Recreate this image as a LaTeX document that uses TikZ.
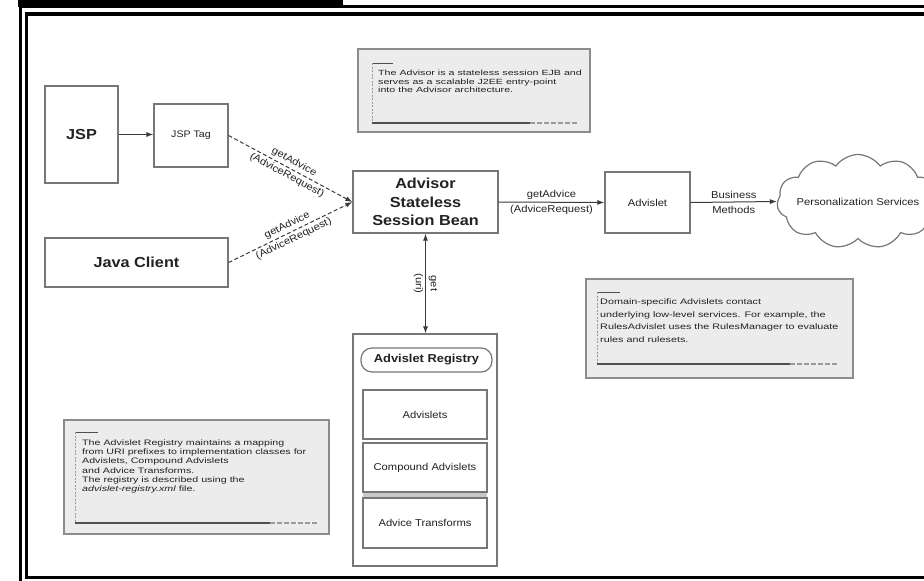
\documentclass[tikz,border=0pt]{standalone}
\usepackage{fontspec}
\setmainfont{Liberation Sans}
\newfontfamily\labfont[FakeStretch=1.12]{Liberation Sans}
\newfontfamily\notefont[FakeStretch=1.35]{Liberation Sans}
\newfontfamily\notefontwide[FakeStretch=1.42]{Liberation Sans}
\usetikzlibrary{shapes.symbols,arrows.meta}

\definecolor{boxgray}{HTML}{777777}
\definecolor{linegray}{HTML}{3A3A3A}
\definecolor{notefill}{HTML}{ECECEC}
\definecolor{noteborder}{HTML}{8C8C8C}
\definecolor{decodark}{HTML}{505050}
\definecolor{decolight}{HTML}{9A9A9A}
\definecolor{bandgray}{HTML}{C8C8C8}
\definecolor{txt}{HTML}{222222}

\tikzset{
  box/.style={draw=boxgray, line width=1.2pt, fill=white, inner sep=0pt,
    align=center, text=txt, font=\labfont\fontsize{10}{14}\selectfont},
  headbox/.style={box, font=\labfont\bfseries\fontsize{14.5}{18.5}\selectfont},
  lbl/.style={inner sep=1pt, align=center, text=txt,
    font=\labfont\fontsize{10}{15}\selectfont},
  arr/.style={draw=linegray, line width=1pt, -{Latex[length=7pt,width=5pt]}},
  darr/.style={draw=linegray, line width=1pt,
    {Latex[length=7pt,width=5pt]}-{Latex[length=7pt,width=5pt]}},
  dasharr/.style={arr, dash pattern=on 4pt off 2.5pt},
  notebox/.style={draw=noteborder, line width=1.5pt, fill=notefill,
    anchor=north west, inner sep=0pt},
  notetext/.style={anchor=north west, inner sep=0pt, align=left, text=txt},
  decotop/.style={draw=decodark, line width=1pt},
  decoside/.style={draw=decolight, line width=0.8pt, dash pattern=on 2pt off 1.5pt},
  decobot/.style={draw=decodark, line width=1.5pt},
  decobotdash/.style={draw=decolight, line width=1.2pt, dash pattern=on 5pt off 2pt},
}

\begin{document}
\begin{tikzpicture}[x=1pt,y=-1pt]
\useasboundingbox (0,0) rectangle (924,581);
\clip (0,0) rectangle (924,581);

% page frame with title tab
\fill[black] (18,0) rectangle (343,6.5);
\draw[line width=3pt] (20,600) -- (20,6.5) -- (940,6.5);
\draw[line width=3.2pt] (940,14) -- (26.5,14) -- (26.5,577.5) -- (940,577.5);

% clients
\node[headbox, minimum width=73pt, minimum height=97pt] (jsp) at (81.5,134.5) {JSP};
\node[box, minimum width=74pt, minimum height=63pt,
      font=\labfont\fontsize{9.5}{12}\selectfont] (tag) at (191,135.5) {JSP Tag};
\node[headbox, minimum width=183pt, minimum height=49pt] (jc) at (136.5,262.5) {Java Client};

% session bean
\node[headbox, minimum width=145pt, minimum height=62pt] (ssb) at (425.5,202)
  {Advisor\\Stateless\\Session Bean};

% advislet and services
\node[box, minimum width=85pt, minimum height=61pt] (adv) at (647.5,202.5) {Advislet};
\node[cloud, draw=boxgray, line width=1.2pt, fill=white, cloud puffs=11,
      cloud puff arc=110, cloud ignores aspect, minimum width=162pt,
      minimum height=94pt, inner sep=0pt] (cloud) at (858,201.5) {};
\node[lbl] (cloudtext) at (cloud.center) {Personalization Services};

% advislet registry
\node[box, minimum width=144pt, minimum height=232pt] (reg) at (425,450) {};
\node[draw=boxgray, line width=1.2pt, rounded corners=11pt, minimum width=131pt,
      minimum height=24pt, inner sep=0pt, text=txt,
      font=\labfont\bfseries\fontsize{11.5}{13}\selectfont] (regtitle) at (426.5,360)
  {Advislet Registry};
\node[box, minimum width=124pt, minimum height=49pt] (items) at (425,414.5) {Advislets};
\node[box, minimum width=124pt, minimum height=49pt] (compound) at (425,467.5) {Compound Advislets};
\node[fill=bandgray, minimum width=124pt, minimum height=5pt, inner sep=0pt] (band) at (425,495) {};
\node[box, minimum width=124pt, minimum height=50pt] (transforms) at (425,523) {Advice Transforms};

% connectors
\draw[arr] (jsp.east) -- (jsp.east -| tag.west);
\draw[dasharr] (tag.east) -- (ssb.west)
  node[midway, sloped, lbl] {getAdvice\\(AdviceRequest)};
\draw[dasharr] (jc.east) -- (ssb.west)
  node[midway, sloped, lbl] {getAdvice\\(AdviceRequest)};
\draw[arr] (ssb.east) -- (adv.west)
  node[midway, lbl] {getAdvice\\(AdviceRequest)};
\draw[arr] (adv.east) -- (cloud.west)
  node[midway, lbl] {Business\\Methods};
\draw[darr] (ssb.south) -- (ssb.south |- reg.north)
  node[midway, sloped, lbl] {get\\(uri)};

% note: the Advisor bean
\node[notebox, minimum width=232pt, minimum height=83pt] (note1) at (357,48) {};
\draw[decotop] (372,63) -- (393,63);
\draw[decoside] (372,63) -- (372,123);
\draw[decobot] (372,123) -- (530,123);
\draw[decobotdash] (530,123) -- (577,123);
\node[notetext, font=\notefontwide\fontsize{7.5}{8.6}\selectfont] (note1text) at (378,70)
  {The Advisor is a stateless session EJB and\\
   serves as a scalable J2EE entry-point\\
   into the Advisor architecture.};

% note: domain-specific advislets
\node[notebox, minimum width=267pt, minimum height=99pt] (note2) at (585,278) {};
\draw[decotop] (597,292) -- (620,292);
\draw[decoside] (597,292) -- (597,364);
\draw[decobot] (597,364) -- (790,364);
\draw[decobotdash] (790,364) -- (838,364);
\node[notetext, font=\notefont\fontsize{8}{12.7}\selectfont] (note2text) at (600,298.5)
  {Domain-specific Advislets contact\\
   underlying low-level services. For example, the\\
   RulesAdvislet uses the RulesManager to evaluate\\
   rules and rulesets.};

% note: the registry
\node[notebox, minimum width=265pt, minimum height=114pt] (note3) at (63,419) {};
\draw[decotop] (75,432) -- (98,432);
\draw[decoside] (75,432) -- (75,523);
\draw[decobot] (75,523) -- (270,523);
\draw[decobotdash] (270,523) -- (317,523);
\node[notetext, font=\notefont\fontsize{7.9}{9.2}\selectfont] (note3text) at (82,439.5)
  {The Advislet Registry maintains a mapping\\
   from URI prefixes to implementation classes for\\
   Advislets, Compound Advislets\\
   and Advice Transforms.\\
   The registry is described using the\\
   \textit{advislet-registry.xml} file.};

\end{tikzpicture}
\end{document}
